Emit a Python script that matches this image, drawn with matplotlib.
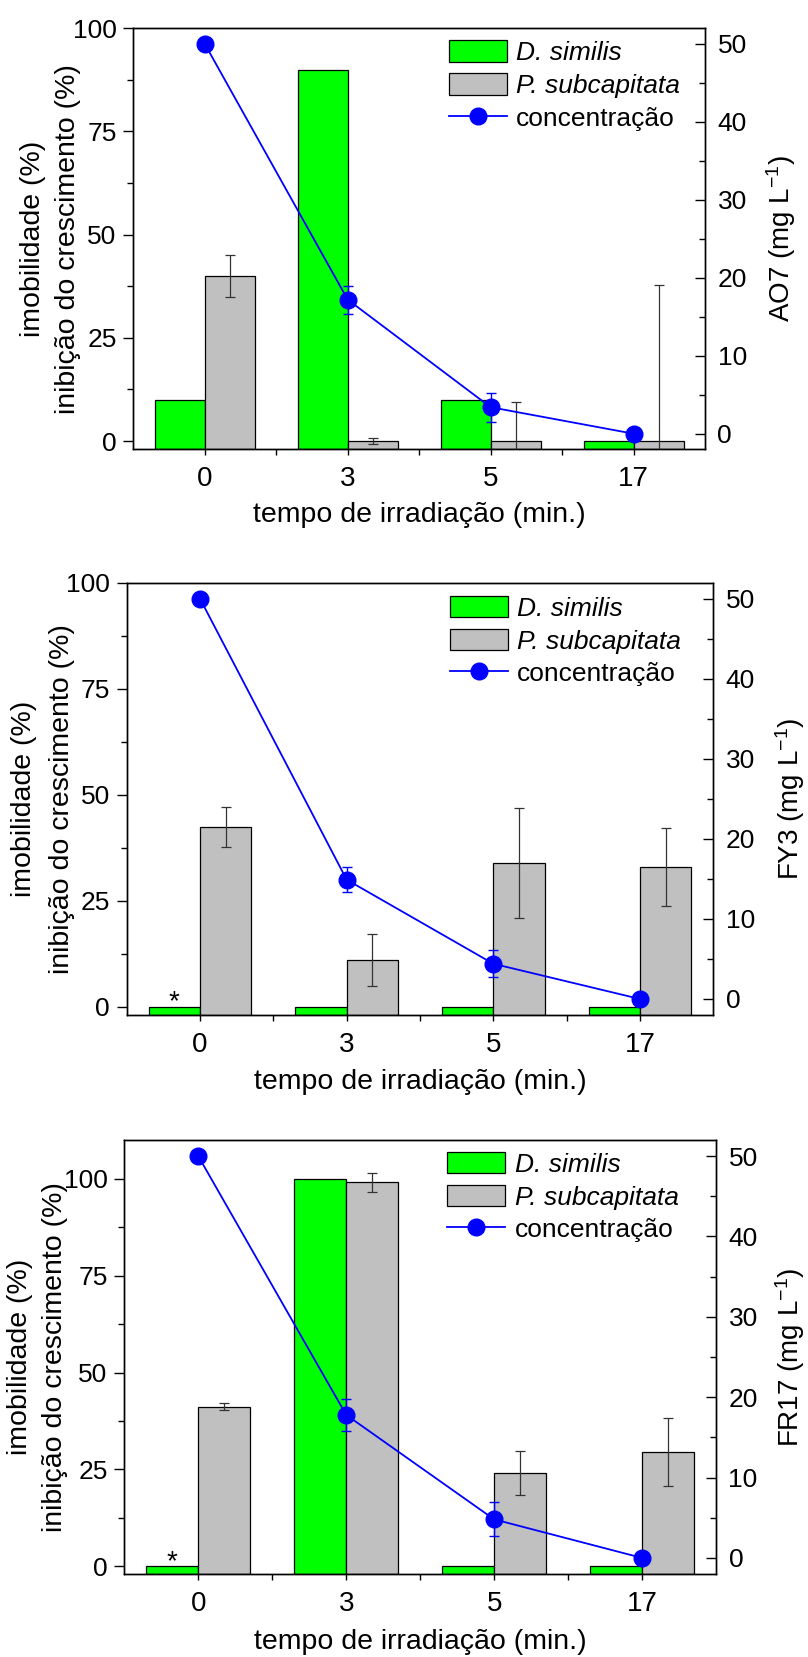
import matplotlib
matplotlib.use("Agg")
import matplotlib.pyplot as plt
import numpy as np
from matplotlib import font_manager as fm
from matplotlib.patches import Patch
from matplotlib.lines import Line2D

# ---------------- data ----------------
categories = ["0", "3", "5", "17"]

dsimilis_ao7 = [10, 90, 10, 0]
psub_ao7 = [40, 0, 0, 0]
psub_ao7_err = [5, 0.7, 9.4, 37.7]
conc_ao7 = [50, 17.2, 3.4, 0]
conc_ao7_err = [0, 1.8, 1.85, 0]

dsimilis_fy3 = [0, 0, 0, 0]
psub_fy3 = [42.4, 10.9, 33.8, 32.9]
psub_fy3_err = [4.7, 6.1, 13.0, 9.2]
conc_fy3 = [50, 14.9, 4.4, 0]
conc_fy3_err = [0, 1.55, 1.7, 0]

dsimilis_fr17 = [0, 100, 0, 0]
psub_fr17 = [41.2, 99.1, 24.1, 29.4]
psub_fr17_err = [1.0, 2.4, 5.6, 8.8]
conc_fr17 = [50, 17.8, 4.8, 0]
conc_fr17_err = [0, 1.95, 2.1, 0]

right_labels = ["AO7 (mg L$^{-1}$)", "FY3 (mg L$^{-1}$)", "FR17 (mg L$^{-1}$)"]
legend_labels = ["D. similis", "P. subcapitata", "concentração"]
xlabel_text = "tempo de irradiação (min.)"
ylabel_line1 = "imobilidade (%)"
ylabel_line2 = "inibição do crescimento (%)"

# ---------------- style ----------------
GREEN = "#00FF00"
GRAY = "#C0C0C0"
BLUE = "#0000FF"
FONT = "Liberation Sans"

plt.rcParams["font.family"] = [FONT, "DejaVu Sans"]
plt.rcParams["mathtext.fontset"] = "custom"
plt.rcParams["mathtext.rm"] = FONT
plt.rcParams["mathtext.it"] = FONT + ":italic"
plt.rcParams["axes.linewidth"] = 1.0

W, H = 808, 1657
fig = plt.figure(figsize=(W / 100, H / 100), dpi=100)


def rect(l, r, t, b):
    return [l / W, 1 - b / H, (r - l) / W, (b - t) / H]


def fx(px):
    return px / W


def fy(py):
    return 1 - py / H


panels = [
    dict(box=(133.3, 705, 28.3, 449.3), ylim=(-2, 100), ds=dsimilis_ao7, ps=psub_ao7,
         pse=psub_ao7_err, c=conc_ao7, ce=conc_ao7_err, rl=right_labels[0], star=False,
         yl=(33, 68), rx=781, xly=515.5, leg=(448.5, 40.5)),
    dict(box=(126.7, 713.3, 582.7, 1015), ylim=(-2, 100), ds=dsimilis_fy3, ps=psub_fy3,
         pse=psub_fy3_err, c=conc_fy3, ce=conc_fy3_err, rl=right_labels[1], star=True,
         yl=(24, 62), rx=790, xly=1082, leg=(449.5, 596)),
    dict(box=(124.3, 716, 1140, 1574), ylim=(-2, 110), ds=dsimilis_fr17, ps=psub_fr17,
         pse=psub_fr17_err, c=conc_fr17, ce=conc_fr17_err, rl=right_labels[2], star=True,
         yl=(20.5, 55.5), rx=790, xly=1642, leg=(447, 1152)),
]

x = np.arange(len(categories))
bw = 0.35

for p in panels:
    l, r, t, b = p["box"]
    ax = fig.add_axes(rect(l, r, t, b))
    ax2 = ax.twinx()
    base = p["ylim"][0]

    ax.bar(x - bw / 2, np.array(p["ds"]) - base, bottom=base, width=bw, color=GREEN,
           edgecolor="black", linewidth=0.9, zorder=2)
    ax.bar(x + bw / 2, np.array(p["ps"]) - base, bottom=base, width=bw, color=GRAY,
           edgecolor="black", linewidth=0.9, zorder=2)
    ax.errorbar(x + bw / 2, p["ps"], yerr=p["pse"], fmt="none", ecolor="#333333",
                elinewidth=0.9, capsize=3.4, capthick=0.9, zorder=3)
    if p["star"]:
        ax.text(x[0] - bw / 2, -0.7, "*", ha="center", va="baseline", fontsize=20)

    ax.set_xlim(-0.5, 3.5)
    ax.set_ylim(*p["ylim"])
    ax.set_xticks(x)
    ax.set_xticklabels(categories)
    ax.set_xticks([0.5, 1.5, 2.5], minor=True)
    ax.set_yticks([0, 25, 50, 75, 100])
    ax.set_yticks([12.5, 37.5, 62.5, 87.5], minor=True)
    ax.tick_params(axis="y", which="major", direction="out", length=7, width=1,
                   labelsize=19, pad=5)
    ax.tick_params(axis="y", which="minor", direction="out", length=4, width=1)
    ax.tick_params(axis="x", which="both", direction="out", length=4, width=1,
                   labelsize=20, pad=8)

    ax2.errorbar(x, p["c"], yerr=p["ce"], fmt="none", ecolor=BLUE, elinewidth=1,
                 capsize=3.6, capthick=1, zorder=2)
    ax2.plot(x, p["c"], "-o", color=BLUE, lw=1.3, ms=12, zorder=3)
    ax2.set_ylim(-2, 52)
    ax2.set_yticks([0, 10, 20, 30, 40, 50])
    ax2.set_yticks([5, 15, 25, 35, 45], minor=True)
    ax2.tick_params(axis="y", which="major", direction="in", length=7, width=1,
                    labelsize=19, pad=9)
    ax2.tick_params(axis="y", which="minor", direction="in", length=4, width=1)

    # labels
    yc = (t + b) / 2
    fig.text(fx(p["yl"][0]), fy(yc), ylabel_line1, rotation=90, ha="center",
             va="center", fontsize=20.5)
    fig.text(fx(p["yl"][1]), fy(yc), ylabel_line2, rotation=90, ha="center",
             va="center", fontsize=20.5)
    fig.text(fx(p["rx"]), fy(yc), p["rl"], rotation=90, ha="center", va="center",
             fontsize=20)
    fig.text(fx((l + r) / 2), fy(p["xly"]), xlabel_text, ha="center", va="center",
             fontsize=20.5)

    handles = [
        Patch(facecolor=GREEN, edgecolor="black", linewidth=0.9),
        Patch(facecolor=GRAY, edgecolor="black", linewidth=0.9),
        Line2D([], [], color=BLUE, marker="o", ms=12, lw=1.3),
    ]
    lx, ly = p["leg"]
    leg = ax2.legend(handles, legend_labels, loc="upper left",
                     bbox_to_anchor=(fx(lx), fy(ly)), bbox_transform=fig.transFigure,
                     frameon=False, borderpad=0, borderaxespad=0, handlelength=2.2,
                     handleheight=0.87, handletextpad=0.36, labelspacing=0.3,
                     prop=fm.FontProperties(family=FONT, size=19))
    for i, txt in enumerate(leg.get_texts()):
        if i < 2:
            txt.set_fontstyle("italic")

fig.savefig("out.png", dpi=100)
